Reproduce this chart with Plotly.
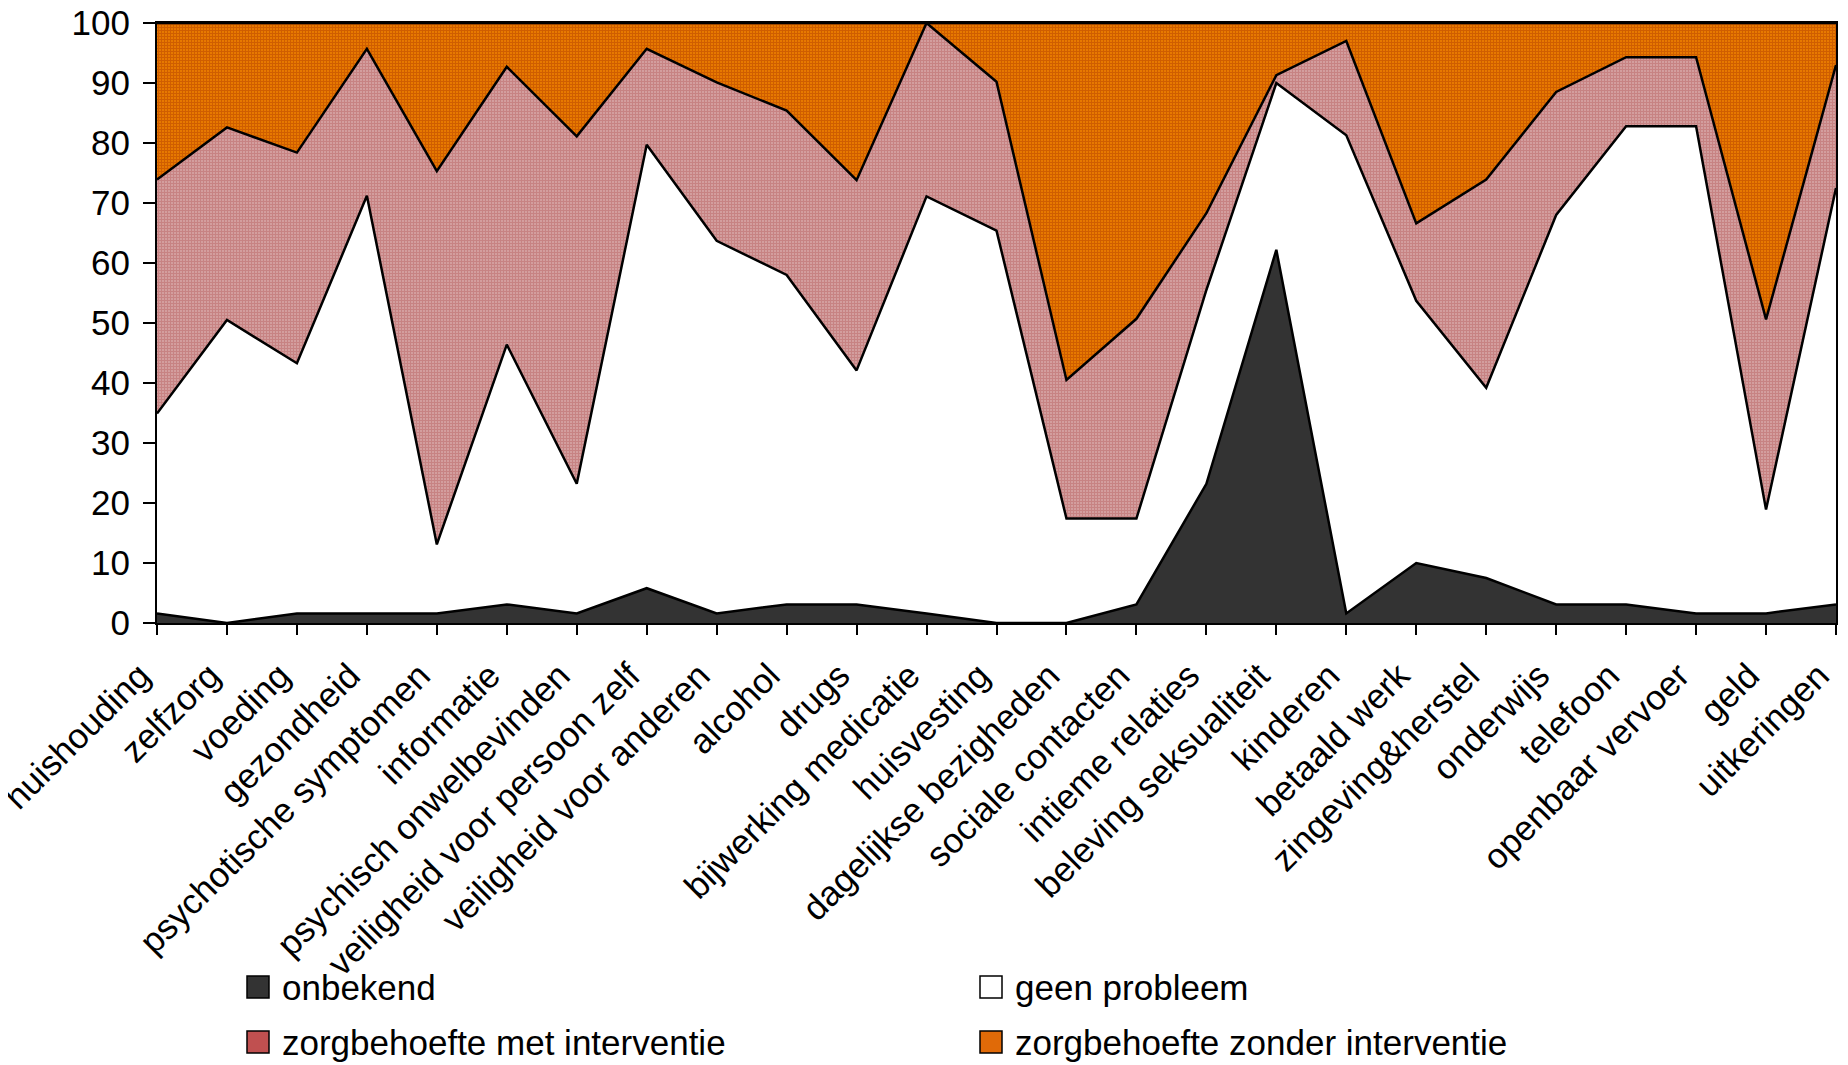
import plotly.graph_objects as go

categories = [
    "huishouding", "zelfzorg", "voeding", "gezondheid", "psychotische symptomen",
    "informatie", "psychisch onwelbevinden", "veiligheid voor persoon zelf",
    "veiligheid voor anderen", "alcohol", "drugs", "bijwerking medicatie",
    "huisvesting", "dagelijkse bezigheden", "sociale contacten", "intieme relaties",
    "beleving seksualiteit", "kinderen", "betaald werk", "zingeving&herstel",
    "onderwijs", "telefoon", "openbaar vervoer", "geld", "uitkeringen",
]

onbekend = [1.6, 0, 1.6, 1.6, 1.6, 3.1, 1.6, 5.8, 1.6, 3.1, 3.1, 1.6, 0, 0, 3.1,
            23.2, 62.2, 1.6, 10.0, 7.5, 3.1, 3.1, 1.6, 1.6, 3.1]
geen_probleem = [33.3, 50.5, 41.7, 69.6, 11.5, 43.3, 21.6, 73.9, 62.1, 54.9, 39.0,
                 69.5, 65.4, 17.4, 14.3, 32.3, 27.8, 79.7, 43.7, 31.7, 64.9, 79.7,
                 81.2, 17.3, 69.4]
met_interventie = [39.0, 32.1, 35.1, 24.5, 62.2, 46.3, 57.9, 16.0, 26.4, 27.4, 31.7,
                   28.9, 24.8, 23.1, 33.3, 12.8, 1.3, 15.7, 12.9, 34.7, 20.5, 11.5,
                   11.5, 31.7, 20.5]
zonder_interventie = [26.1, 17.4, 21.6, 4.3, 24.7, 7.3, 18.9, 4.3, 9.9, 14.6, 26.2,
                      0, 9.8, 59.5, 49.3, 31.7, 8.7, 3.0, 33.4, 26.1, 11.5, 5.7,
                      5.7, 49.4, 7.0]

series_names = ["onbekend", "geen probleem", "zorgbehoefte met interventie",
                "zorgbehoefte zonder interventie"]
y_ticks = [0, 10, 20, 30, 40, 50, 60, 70, 80, 90, 100]

FONT = "Liberation Sans, Arial, sans-serif"
OFF = 8  # default page body margin
W, H = 1848 - OFF, 1065 - OFF
ML, MT = 157 - OFF, 23 - OFF
MR = W - (1836 - OFF)
MB = H - (623 - OFF)
PW, PH = W - ML - MR, H - MT - MB

styles = [
    dict(fillcolor="#333333", fillpattern=None),
    dict(fillcolor="#ffffff", fillpattern=None),
    dict(fillcolor="#ffffff", fillpattern=dict(shape="+", size=3, solidity=0.92,
                                               fgcolor="#900808", bgcolor="#ffffff")),
    dict(fillcolor="#ff8c00", fillpattern=dict(shape="+", size=3, solidity=0.8,
                                               fgcolor="#a02800", bgcolor="#ff9400")),
]

fig = go.Figure()
for name, vals, st in zip(series_names,
                          [onbekend, geen_probleem, met_interventie, zonder_interventie],
                          styles):
    kw = dict(x=categories, y=vals, name=name, mode="lines", stackgroup="one",
              line=dict(color="black", width=2.5, shape="linear"),
              fillcolor=st["fillcolor"], showlegend=False, hoverinfo="x+y+name")
    if name == "onbekend":
        kw["groupnorm"] = "percent"
    if st["fillpattern"]:
        kw["fillpattern"] = st["fillpattern"]
    fig.add_trace(go.Scatter(**kw))


def px_x(px):
    return (px - OFF - ML) / PW


def px_y(py):
    return (H - MB - (py - OFF)) / PH


# manual 2 x 2 legend (page pixel positions)
legend_items = [
    (series_names[0], "#333333", 247, 987),
    (series_names[1], "#ffffff", 980, 987),
    (series_names[2], "#c05050", 247, 1042),
    (series_names[3], "#e06a08", 980, 1042),
]
shapes = []
annotations = []
for name, col, sx, sy in legend_items:
    shapes.append(dict(type="rect", xref="paper", yref="paper",
                       x0=px_x(sx), x1=px_x(sx + 22), y0=px_y(sy + 11), y1=px_y(sy - 11),
                       fillcolor=col, line=dict(color="black", width=1.5)))
    annotations.append(dict(text=name, xref="paper", yref="paper",
                            x=px_x(sx + 33), y=px_y(sy), xanchor="left", yanchor="middle",
                            showarrow=False, font=dict(family=FONT, size=35, color="black")))

fig.update_layout(
    width=W, height=H,
    margin=dict(l=ML, r=MR, t=MT, b=MB, autoexpand=False),
    paper_bgcolor="white", plot_bgcolor="white",
    font=dict(family=FONT, color="black"),
    shapes=shapes, annotations=annotations,
    showlegend=False,
)
fig.update_xaxes(type="category", range=[0, len(categories) - 1],
                 showgrid=False, zeroline=False,
                 showline=True, linecolor="black", linewidth=2, mirror=True,
                 ticks="outside", ticklen=10, tickwidth=1.5, tickcolor="black",
                 tickangle=-45, tickfont=dict(family=FONT, size=35),
                 ticklabelshift=-17, ticklabelstandoff=6, ticklabeloverflow="allow",
                 automargin=False)
fig.update_yaxes(range=[0, 100], tickvals=y_ticks,
                 showgrid=False, zeroline=False,
                 showline=True, linecolor="black", linewidth=2, mirror=True,
                 ticks="outside", ticklen=12, tickwidth=1.5, tickcolor="black",
                 tickfont=dict(family=FONT, size=35), ticklabelstandoff=6,
                 ticklabeloverflow="allow",
                 automargin=False)

fig.write_html("out.html")
